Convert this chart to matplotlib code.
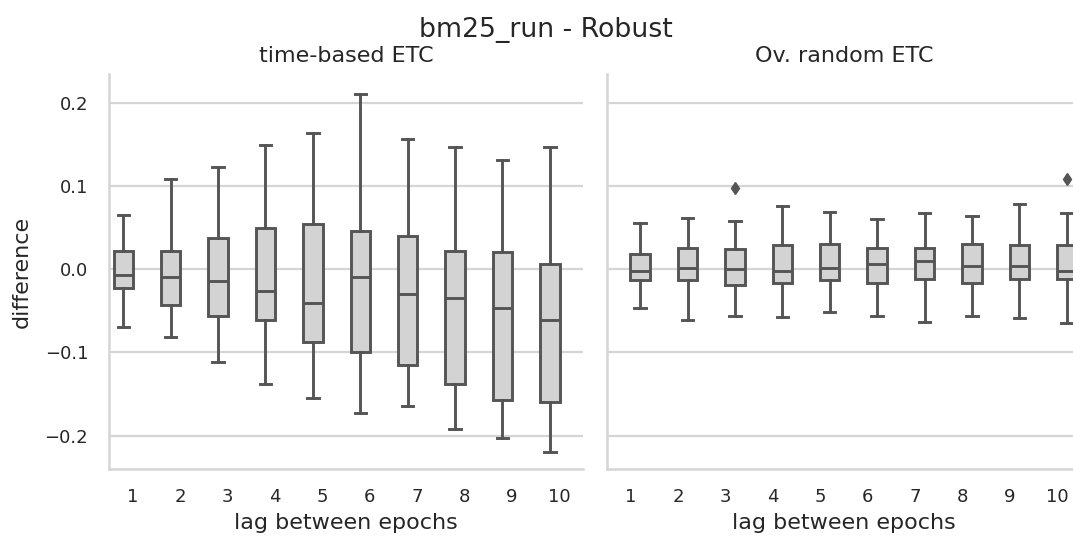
import matplotlib
matplotlib.use("Agg")
import matplotlib.pyplot as plt

lags = [1, 2, 3, 4, 5, 6, 7, 8, 9, 10]

# time-based ETC
tb_whislo = [-0.069, -0.082, -0.112, -0.138, -0.155, -0.173, -0.164, -0.192, -0.203, -0.220]
tb_q1 = [-0.023, -0.043, -0.056, -0.061, -0.088, -0.099, -0.115, -0.138, -0.157, -0.160]
tb_med = [-0.007, -0.009, -0.014, -0.026, -0.041, -0.009, -0.030, -0.034, -0.046, -0.061]
tb_q3 = [0.022, 0.022, 0.037, 0.049, 0.054, 0.046, 0.040, 0.022, 0.021, 0.006]
tb_whishi = [0.065, 0.108, 0.123, 0.149, 0.164, 0.210, 0.157, 0.147, 0.131, 0.147]
tb_fliers = [[], [], [], [], [], [], [], [], [], []]

# Ov. random ETC
ov_whislo = [-0.046, -0.061, -0.056, -0.058, -0.052, -0.056, -0.063, -0.056, -0.059, -0.065]
ov_q1 = [-0.013, -0.013, -0.019, -0.016, -0.013, -0.017, -0.012, -0.017, -0.012, -0.012]
ov_med = [-0.002, 0.002, 0.000, -0.002, 0.002, 0.006, 0.010, 0.004, 0.004, -0.002]
ov_q3 = [0.018, 0.026, 0.024, 0.029, 0.030, 0.026, 0.026, 0.030, 0.029, 0.029]
ov_whishi = [0.056, 0.062, 0.058, 0.076, 0.069, 0.060, 0.067, 0.064, 0.078, 0.068]
ov_fliers = [[], [], [0.098], [], [], [], [], [], [], [0.108]]

panel_titles = ["time-based ETC", "Ov. random ETC"]
suptitle = "bm25_run - Robust"
xlabel = "lag between epochs"
ylabel = "difference"
yticks = [-0.2, -0.1, 0.0, 0.1, 0.2]
ytick_labels = ["\u22120.2", "\u22120.1", "0.0", "0.1", "0.2"]

W, H, DPI = 1073, 537, 100
fig = plt.figure(figsize=(W / DPI, H / DPI), dpi=DPI)

text_c = "#262626"
line_c = "#555555"
grid_c = "#d5d5d5"
box_fc = "#d3d3d3"

ax_w = 474 / W
ax_h = 395 / H
ax_b = (H - 469) / H
ax1 = fig.add_axes([109 / W, ax_b, ax_w, ax_h])
ax2 = fig.add_axes([607 / W, ax_b, ax_w, ax_h], sharey=ax1)


def stats(lo, q1, med, q3, hi, fl):
    out = []
    for i in range(len(lo)):
        out.append(dict(whislo=lo[i], q1=q1[i], med=med[i], q3=q3[i],
                        whishi=hi[i], fliers=fl[i], label=str(lags[i])))
    return out


panels = [
    (ax1, stats(tb_whislo, tb_q1, tb_med, tb_q3, tb_whishi, tb_fliers), -0.2),
    (ax2, stats(ov_whislo, ov_q1, ov_med, ov_q3, ov_whishi, ov_fliers), 0.2),
]

for k, (ax, st, off) in enumerate(panels):
    pos = [i + off for i in range(len(lags))]
    ax.bxp(st, positions=pos, widths=0.41, patch_artist=True,
           capwidths=0.24,
           boxprops=dict(facecolor=box_fc, edgecolor=line_c, linewidth=2.1),
           medianprops=dict(color=line_c, linewidth=2.1),
           whiskerprops=dict(color=line_c, linewidth=2.1),
           capprops=dict(color=line_c, linewidth=2.1),
           flierprops=dict(marker="d", markerfacecolor=line_c,
                           markeredgecolor=line_c, markersize=6),
           manage_ticks=False, zorder=3)
    ax.set_xlim(-0.5, len(lags) - 0.5)
    ax.set_xticks(range(len(lags)))
    ax.set_xticklabels([str(l) for l in lags])
    ax.set_ylim(-0.2400, 0.2345)
    ax.set_yticks(yticks)
    ax.grid(axis="y", color=grid_c, linewidth=1.6, zorder=0)
    ax.set_axisbelow(True)
    for s in ["top", "right"]:
        ax.spines[s].set_visible(False)
    for s in ["left", "bottom"]:
        ax.spines[s].set_color(grid_c)
        ax.spines[s].set_linewidth(1.8)
    ax.tick_params(axis="both", length=0, labelsize=13, colors=text_c)
    ax.tick_params(axis="x", pad=14)
    ax.tick_params(axis="y", pad=15)
    ax.set_title(panel_titles[k], fontsize=16, color=text_c, pad=9)
    ax.set_xlabel(xlabel, fontsize=16, color=text_c, labelpad=5)

ax1.set_ylabel(ylabel, fontsize=16, color=text_c, labelpad=9)
ax1.set_yticklabels(ytick_labels)
plt.setp(ax2.get_yticklabels(), visible=False)

fig.text(546 / W, 1 - 30 / H, suptitle, fontsize=19.3, color=text_c,
         ha="center", va="center")

fig.savefig("out.png", dpi=DPI)
